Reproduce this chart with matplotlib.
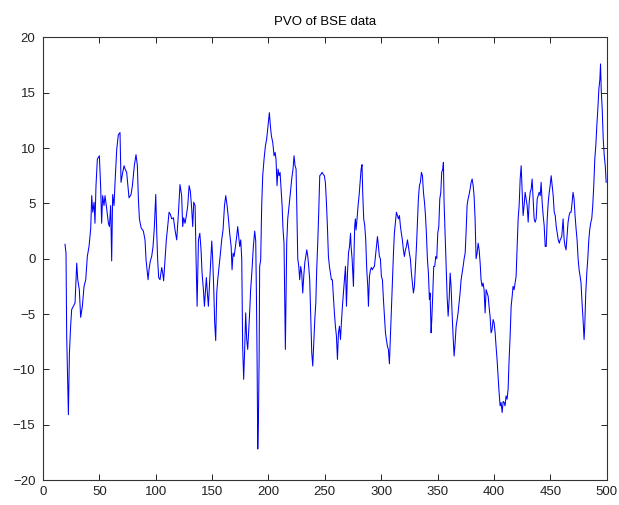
import matplotlib
matplotlib.use("Agg")
import matplotlib.pyplot as plt

# Percentage Volume Oscillator values by trading day
day = [
    19.5, 20.4, 21.0, 22.5, 23.4, 24.5, 25.4, 26.9, 28.4, 29.9, 30.8, 32.2, 33.4, 34.9,
    36.4, 37.9, 39.3, 40.8, 42.3, 43.2, 44.1, 45.3, 46.1, 47.0, 48.2, 50.0, 51.2, 52.0,
    52.9, 54.1, 55.0, 56.5, 58.0, 58.9, 60.0, 60.9, 61.8, 63.0, 63.9, 65.4, 66.8, 68.3,
    69.2, 70.7, 71.9, 72.8, 74.2, 76.3, 78.1, 79.3, 81.0, 82.5, 83.7, 84.6, 85.5, 87.0,
    89.0, 90.5, 91.4, 92.3, 93.2, 94.0, 95.2, 96.4, 97.6, 98.8, 100.0, 100.9, 101.7,
    102.6, 103.8, 105.3, 106.2, 107.0, 108.2, 109.4, 110.6, 111.8, 113.0, 114.2, 115.7,
    117.1, 118.6, 120.0, 121.5, 123.0, 123.9, 124.8, 126.0, 127.2, 128.4, 129.6, 130.7,
    131.9, 132.8, 133.7, 134.9, 135.8, 136.7, 137.9, 139.1, 140.2, 141.1, 142.3, 143.2,
    144.0, 144.9, 145.8, 146.7, 147.6, 148.8, 149.7, 150.5, 151.4, 152.3, 153.2, 154.1,
    155.0, 156.2, 157.4, 158.5, 159.7, 161.0, 162.1, 163.3, 164.5, 165.6, 166.9, 167.7,
    168.6, 169.5, 170.7, 171.8, 172.7, 173.6, 174.5, 175.4, 176.3, 177.1, 178.0, 178.9,
    179.8, 180.7, 181.6, 182.4, 183.3, 184.2, 185.4, 186.6, 187.8, 188.7, 189.3, 189.9,
    190.5, 191.1, 191.7, 192.2, 193.1, 194.0, 194.9, 196.1, 197.3, 198.4, 199.6, 200.8,
    201.7, 202.6, 203.8, 205.0, 205.9, 206.7, 207.6, 208.5, 209.4, 210.3, 211.2, 212.1,
    212.9, 213.8, 214.4, 215.0, 215.6, 216.2, 217.1, 218.0, 218.9, 219.8, 220.6, 221.8,
    222.7, 223.6, 224.5, 225.1, 226.0, 226.9, 227.7, 228.6, 229.5, 230.4, 231.3, 232.2,
    233.1, 234.0, 234.9, 235.7, 236.6, 237.5, 238.4, 239.3, 240.2, 241.1, 242.0, 242.8,
    243.7, 244.6, 245.5, 246.4, 247.6, 248.7, 249.6, 250.5, 251.4, 252.3, 253.2, 254.1,
    255.0, 255.8, 256.7, 257.6, 258.5, 259.4, 260.3, 261.2, 262.1, 263.0, 263.9, 264.7,
    265.6, 266.5, 267.4, 268.3, 269.2, 270.1, 271.0, 271.9, 272.8, 273.3, 274.2, 274.8,
    275.4, 276.0, 276.5, 277.1, 277.7, 278.6, 279.5, 280.4, 281.3, 282.2, 283.0, 283.6,
    284.5, 285.4, 286.3, 287.2, 288.1, 288.7, 289.6, 290.5, 291.3, 292.2, 293.1, 294.0,
    294.9, 295.8, 296.7, 297.6, 298.4, 299.3, 300.2, 301.1, 302.0, 302.9, 303.8, 304.6,
    305.5, 306.4, 307.3, 308.2, 309.1, 310.0, 310.9, 311.7, 312.6, 313.5, 314.4, 315.3,
    316.2, 317.1, 317.9, 318.8, 319.7, 320.6, 321.5, 322.4, 323.3, 324.2, 325.0, 325.9,
    326.8, 327.7, 328.6, 329.5, 330.4, 331.3, 332.2, 333.0, 333.9, 334.8, 335.7, 336.6,
    337.5, 338.4, 339.3, 340.1, 341.0, 341.9, 342.8, 343.4, 344.3, 344.9, 345.8, 346.6,
    347.5, 348.4, 349.3, 350.2, 351.1, 352.0, 352.9, 353.7, 354.6, 355.2, 355.8, 356.7,
    357.6, 358.5, 359.4, 360.3, 361.2, 362.0, 362.9, 363.8, 364.7, 365.6, 366.5, 367.4,
    368.2, 369.1, 370.0, 370.9, 371.8, 372.7, 373.6, 374.5, 375.3, 376.2, 377.1, 378.0,
    378.9, 379.8, 380.7, 381.6, 382.4, 383.3, 384.2, 385.1, 386.0, 386.9, 387.8, 388.6,
    389.5, 390.4, 391.3, 392.2, 393.1, 394.0, 394.9, 395.7, 396.6, 397.5, 398.4, 399.3,
    400.2, 401.1, 401.9, 402.8, 403.7, 404.6, 405.5, 406.4, 407.3, 408.2, 409.1, 409.9,
    410.8, 411.7, 412.6, 413.5, 414.4, 415.3, 416.2, 417.0, 417.9, 418.8, 419.7, 420.6,
    421.5, 422.4, 423.3, 424.2, 425.0, 425.9, 426.8, 427.7, 428.6, 429.5, 430.4, 431.3,
    432.2, 433.1, 433.9, 434.8, 435.7, 436.6, 437.5, 438.4, 439.3, 440.2, 441.1, 441.9,
    442.8, 443.7, 444.6, 445.5, 446.4, 447.3, 448.2, 449.1, 449.9, 450.8, 451.7, 452.6,
    453.5, 454.4, 455.3, 456.2, 457.1, 458.0, 458.8, 460.2, 461.4, 462.3, 463.2, 464.0,
    464.9, 465.8, 466.7, 467.6, 468.5, 469.4, 470.2, 471.1, 472.0, 472.9, 473.8, 474.7,
    475.6, 476.5, 477.3, 478.2, 479.1, 480.0, 480.6, 481.5, 482.4, 483.3, 484.2, 485.1,
    486.0, 486.8, 487.7, 488.6, 489.5, 490.4, 491.3, 492.2, 493.1, 494.0, 494.6, 495.2,
    496.1, 497.0, 497.9, 498.8, 499.6,
]

pvo = [
    1.3, 0.5, -7.0, -14.1, -8.6, -6.1, -4.6, -4.3, -4.0, -0.4, -1.9, -2.8, -5.3, -4.3,
    -2.5, -1.9, 0.2, 1.1, 2.7, 5.7, 4.2, 5.1, 3.2, 6.6, 9.0, 9.3, 6.3, 3.2,
    5.7, 4.8, 5.7, 4.5, 3.2, 2.9, 4.8, -0.2, 5.8, 4.8, 6.9, 9.9, 11.2, 11.4,
    6.9, 7.8, 8.4, 8.1, 7.8, 5.5, 5.8, 6.6, 8.4, 9.4, 8.4, 5.4, 3.6, 2.8,
    2.5, 1.7, -0.1, -1.0, -1.9, -1.0, -0.2, 0.2, 1.1, 2.9, 5.8, 2.3, -0.1,
    -1.7, -1.9, -0.8, -1.3, -2.0, -0.1, 1.7, 2.9, 4.2, 4.0, 3.6, 3.7,
    2.6, 1.7, 3.9, 6.7, 5.7, 2.9, 3.7, 3.2, 3.9, 4.8, 6.6, 6.1,
    4.5, 2.9, 5.1, 4.8, -0.1, -4.3, 1.7, 2.3, 0.8, -1.3, -2.8, -4.3,
    -3.1, -1.7, -3.1, -4.3, -2.5, 0.0, 1.6, 0.0, -2.5, -5.8, -7.4, -3.1,
    -1.9, -0.7, 0.5, 1.7, 2.6, 4.8, 5.7, 4.8, 3.6, 2.3, 1.1, -1.0,
    0.5, 0.2, 1.1, 2.0, 2.9, 2.0, 1.1, 1.7, 0.0, -7.9, -10.9, -8.2,
    -4.9, -7.3, -8.2, -6.7, -4.9, -2.8, -1.0, 1.1, 2.5, 1.6, -3.1, -9.1,
    -17.2, -14.5, -9.1, -0.7, -0.1, 4.8, 7.5, 9.0, 10.2, 10.8, 12.0, 13.2,
    12.0, 11.1, 10.5, 9.3, 9.6, 9.0, 6.6, 8.1, 7.5, 7.8, 6.3, 4.8,
    2.7, 1.4, -3.1, -8.2, -3.1, 1.4, 3.6, 4.5, 5.4, 6.3, 7.2, 8.1,
    9.3, 8.4, 8.1, 4.8, 0.0, -0.7, -1.9, -0.7, -1.3, -3.1, -1.6, -0.4,
    0.2, 0.8, 0.2, -0.7, -1.9, -5.2, -8.5, -9.7, -7.6, -5.5, -4.0, -1.0,
    1.4, 4.2, 7.5, 7.6, 7.8, 7.6, 7.5, 6.9, 5.1, 2.9, 0.2, -0.7,
    -1.3, -1.9, -1.9, -3.4, -4.9, -6.1, -7.0, -9.1, -6.7, -6.1, -7.3, -5.8,
    -4.3, -3.1, -1.9, -0.7, -4.3, -1.3, 0.5, 1.1, 2.3, 1.1, 0.0, -1.3,
    -2.5, 0.8, 2.9, 3.6, 2.6, 3.6, 4.8, 5.7, 6.9, 8.1, 8.5, 6.0,
    3.6, 3.0, 1.7, -1.0, -2.5, -4.3, -1.6, -1.0, -0.8, -1.0, -0.8, -0.7,
    0.2, 1.1, 2.0, 1.1, 0.2, 0.0, -1.6, -1.9, -3.7, -5.2, -6.7, -7.3,
    -7.9, -8.2, -9.5, -7.0, -4.6, -1.9, 0.5, 2.3, 3.3, 4.2, 3.9, 3.6,
    3.9, 2.9, 2.3, 1.7, 0.8, 0.2, 0.8, 1.1, 1.7, 1.1, 0.5, 0.0,
    -1.3, -2.2, -3.1, -2.5, -0.7, 1.1, 3.3, 5.4, 6.6, 6.9, 7.8, 7.5,
    6.0, 5.1, 3.9, 2.3, 0.0, -1.3, -3.7, -3.1, -6.7, -5.5, -3.1, -0.7,
    -0.7, 0.2, 0.0, 2.3, 2.9, 5.4, 6.0, 7.8, 8.1, 8.7, 5.1, 2.3,
    -0.7, -3.4, -5.2, -3.7, -1.3, -2.5, -4.9, -7.0, -8.8, -7.6, -6.1, -5.5,
    -4.9, -4.0, -3.1, -1.9, -1.3, -0.7, 0.0, 0.5, 2.3, 4.8, 5.4, 5.8,
    6.3, 6.9, 7.2, 6.6, 5.7, 3.6, 0.0, 0.5, 1.4, 0.8, -0.4, -1.9,
    -2.5, -2.2, -2.8, -4.9, -2.8, -3.1, -3.4, -4.3, -5.2, -6.7, -6.4, -5.5,
    -5.8, -6.7, -7.9, -9.1, -10.6, -12.1, -13.3, -13.0, -13.9, -12.9, -13.0, -13.3,
    -12.4, -12.7, -11.8, -9.1, -7.0, -4.3, -3.4, -2.5, -2.8, -2.2, -1.6, 1.1,
    3.6, 4.8, 7.2, 8.4, 6.3, 3.9, 4.8, 6.0, 5.4, 4.8, 3.3, 5.1,
    6.0, 6.3, 7.2, 5.4, 3.6, 3.3, 3.6, 5.4, 5.7, 6.0, 5.7, 6.9,
    5.1, 3.9, 3.0, 1.1, 1.1, 3.6, 5.1, 6.0, 6.6, 7.5, 6.6, 5.7,
    4.2, 3.9, 2.9, 2.3, 1.7, 1.4, 1.7, 2.0, 3.6, 1.7, 1.1, 0.8,
    2.0, 3.3, 3.9, 4.2, 4.2, 5.1, 6.0, 5.4, 3.9, 2.7, 1.7, 0.0,
    -1.0, -1.6, -2.2, -4.0, -5.5, -7.3, -6.1, -3.1, -1.3, 0.0, 1.7, 2.7,
    3.3, 3.6, 4.8, 6.6, 9.0, 10.2, 12.0, 13.5, 15.3, 16.2, 17.6, 15.3,
    13.5, 10.8, 9.3, 8.4, 6.9,
]

x_ticks = list(range(0, 501, 50))
y_ticks = list(range(-20, 21, 5))

plt.rcParams["font.family"] = ["Liberation Sans", "DejaVu Sans"]

fig = plt.figure(figsize=(6.19, 5.05), dpi=100, facecolor="white")
ax = fig.add_axes([0.0695, 0.0495, 0.9105, 0.8765])

ax.plot(day, pvo, color="#0000ff", linewidth=0.75)

ax.set_xlim(0, 500)
ax.set_ylim(-20, 20)
ax.set_xticks(x_ticks)
ax.set_yticks(y_ticks)
ax.tick_params(direction="in", length=4.5, width=0.7, top=True, right=True,
               labelsize=9.5, colors="#222222")
ax.tick_params(axis="y", pad=5.5)
ax.tick_params(axis="x", pad=4)
for sp in ax.spines.values():
    sp.set_linewidth(0.8)
    sp.set_color("#333333")

ax.set_title("PVO of BSE data", fontsize=9.5, pad=9)

fig.savefig("out.png", dpi=100, facecolor="white")
